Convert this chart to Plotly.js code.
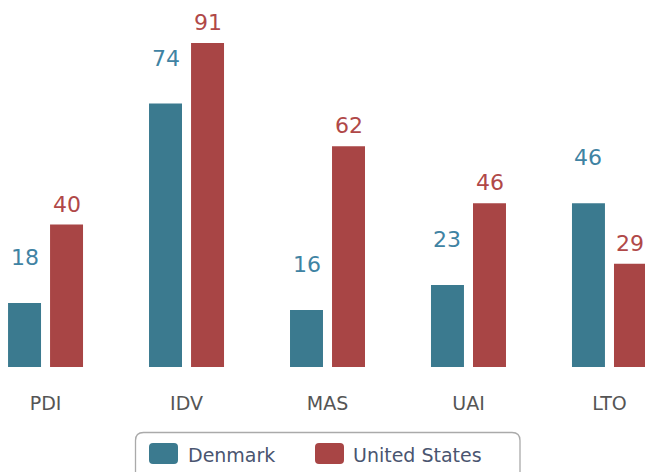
<!DOCTYPE html>
<html><head><meta charset="utf-8">
<script src="https://cdn.plot.ly/plotly-3.0.1.min.js"></script>
<style>html,body{margin:0;padding:0;background:#fff}#chart{width:645px;height:472px}</style>
</head><body><div id="chart"></div>
<script>
const categories = ["PDI", "IDV", "MAS", "UAI", "LTO"];
const denmark = [18, 74, 16, 23, 46];
const unitedStates = [40, 91, 62, 46, 29];
const seriesNames = ["Denmark", "United States"];

const colDK = "#3b7a8f", colUS = "#a84545";
const txtDK = "#3f83a3", txtUS = "#b04848";
const off = 0.149;
const W = 645, H = 472, PB = 367;

const traces = [
  {type: "bar", name: seriesNames[0], x: categories, y: denmark, marker: {color: colDK}, hoverinfo: "none"},
  {type: "bar", name: seriesNames[1], x: categories, y: unitedStates, marker: {color: colUS}, hoverinfo: "none"}
];

const annotations = [];
categories.forEach((c, i) => {
  annotations.push({x: i - off, y: denmark[i], xref: "x", yref: "y", text: String(denmark[i]),
    showarrow: false, yanchor: "bottom", yshift: 31, font: {family: "DejaVu Sans", size: 22, color: txtDK}});
  annotations.push({x: i + off, y: unitedStates[i], xref: "x", yref: "y", text: String(unitedStates[i]),
    showarrow: false, yanchor: "bottom", yshift: 6, font: {family: "DejaVu Sans", size: 22, color: txtUS}});
});

// custom legend (pixel helpers -> paper coords)
const px = v => v / W;
const py = v => (PB - v) / PB;
function roundRect(x0, y0, x1, y1, r) {
  return `M${px(x0 + r)},${py(y0)} L${px(x1 - r)},${py(y0)} Q${px(x1)},${py(y0)} ${px(x1)},${py(y0 + r)} ` +
    `L${px(x1)},${py(y1 - r)} Q${px(x1)},${py(y1)} ${px(x1 - r)},${py(y1)} ` +
    `L${px(x0 + r)},${py(y1)} Q${px(x0)},${py(y1)} ${px(x0)},${py(y1 - r)} ` +
    `L${px(x0)},${py(y0 + r)} Q${px(x0)},${py(y0)} ${px(x0 + r)},${py(y0)} Z`;
}
const shapes = [
  {type: "path", xref: "paper", yref: "paper", path: roundRect(135.5, 432.5, 520, 485, 8),
    line: {color: "#aaaaaa", width: 1.3}, fillcolor: "rgba(0,0,0,0)"},
  {type: "path", xref: "paper", yref: "paper", path: roundRect(149, 443, 178, 464, 4),
    line: {width: 0}, fillcolor: colDK},
  {type: "path", xref: "paper", yref: "paper", path: roundRect(315, 443, 344, 464, 4),
    line: {width: 0}, fillcolor: colUS}
];
annotations.push({xref: "paper", yref: "paper", x: px(186), y: py(455), xanchor: "left", yanchor: "middle",
  text: seriesNames[0], showarrow: false, font: {family: "DejaVu Sans", size: 19, color: "#4a5570"}});
annotations.push({xref: "paper", yref: "paper", x: px(351), y: py(455), xanchor: "left", yanchor: "middle",
  text: seriesNames[1], showarrow: false, font: {family: "DejaVu Sans", size: 19, color: "#4a5570"}});

const layout = {
  width: W, height: H,
  margin: {l: 0, r: 0, t: 0, b: H - PB},
  paper_bgcolor: "#fff", plot_bgcolor: "#fff",
  barmode: "group", bargap: 0.404, bargroupgap: 0.215,
  xaxis: {type: "category", range: [-0.323, 4.252], showgrid: false, zeroline: false, showline: false,
    ticks: "outside", ticklen: 19, tickcolor: "rgba(0,0,0,0)",
    tickfont: {family: "DejaVu Sans", size: 19, color: "#555"}},
  yaxis: {range: [0, 103.08], visible: false, showgrid: false, zeroline: false},
  showlegend: false,
  annotations: annotations,
  shapes: shapes
};

Plotly.newPlot("chart", traces, layout, {displayModeBar: false, staticPlot: true});
</script></body></html>
